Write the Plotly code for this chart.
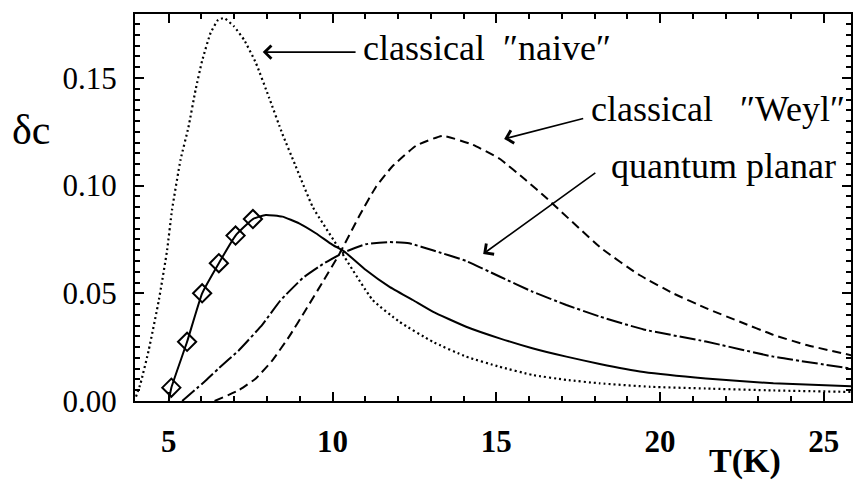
import plotly.graph_objects as go

# Temperature (K) and specific-heat excess delta-c for each curve
t_naive = [4.0, 4.14, 4.39, 4.7, 4.95, 5.1, 5.36, 5.6, 5.82, 6.02, 6.28, 6.51, 6.69,
           6.99, 7.3, 7.66, 8.06, 8.47, 8.85, 9.4, 10.26, 11.22, 12.04, 13.06, 14.08,
           15.1, 16.1, 17.14, 18.16, 19.7, 21.4, 23.46, 25.85]
dc_naive = [0.002, 0.0082, 0.0237, 0.047, 0.070, 0.0887, 0.112, 0.127, 0.1445, 0.158,
            0.171, 0.177, 0.1778, 0.174, 0.1677, 0.157, 0.141, 0.124, 0.110, 0.090,
            0.0694, 0.047, 0.0368, 0.0275, 0.0206, 0.0159, 0.0121, 0.0098, 0.0082,
            0.0066, 0.0058, 0.0049, 0.0042]

t_weyl = [6.4, 7.15, 7.66, 8.17, 8.68, 9.19, 9.69, 10.2, 10.82, 11.33, 11.83, 12.55,
          13.36, 14.28, 15.1, 15.9, 16.55, 18.2, 19.37, 20.4, 21.42, 22.44, 23.46,
          24.47, 25.85]
dc_weyl = [0.0, 0.0051, 0.0105, 0.019, 0.030, 0.0425, 0.055, 0.068, 0.086, 0.0995,
           0.109, 0.1185, 0.1231, 0.119, 0.1125, 0.1026, 0.094, 0.071, 0.0585,
           0.050, 0.043, 0.0368, 0.0307, 0.026, 0.0212]

t_planar = [5.41, 6.13, 6.53, 7.15, 7.86, 8.4, 9.1, 9.75, 10.35, 11.02, 11.73, 12.34,
            13.06, 14.08, 15.1, 16.1, 17.14, 18.16, 19.5, 21.4, 23.46, 25.85]
dc_planar = [0.0, 0.0095, 0.0152, 0.0237, 0.0355, 0.0465, 0.0572, 0.064, 0.069, 0.0728,
             0.0738, 0.0732, 0.070, 0.065, 0.0578, 0.0508, 0.0446, 0.0392, 0.0332,
             0.0276, 0.0206, 0.0150]

t_fit = [5.0, 5.08, 5.56, 6.02, 6.53, 7.04, 7.57, 7.96, 8.47, 8.98, 9.49, 10.0, 10.36,
         11.02, 11.73, 12.45, 13.06, 14.08, 15.1, 16.1, 17.14, 18.16, 19.5, 21.4,
         23.46, 25.85]
dc_fit = [0.0, 0.0062, 0.0275, 0.050, 0.064, 0.0768, 0.0845, 0.0864, 0.0856, 0.0825,
          0.0779, 0.0725, 0.0694, 0.0608, 0.0531, 0.0469, 0.0415, 0.0345, 0.0291,
          0.0245, 0.0206, 0.0172, 0.0135, 0.0105, 0.0082, 0.0068]

# measured points
t_meas = [5.08, 5.56, 6.02, 6.53, 7.04, 7.57]
dc_meas = [0.0062, 0.0275, 0.050, 0.064, 0.0768, 0.0845]

x_ticks = [5, 10, 15, 20, 25]
y_ticks = [0.0, 0.05, 0.10, 0.15]

SERIF = "Liberation Serif, Times New Roman, serif"

fig = go.Figure()


def curve(x, y, dash, width=2.0):
    fig.add_trace(go.Scatter(
        x=x, y=y, mode="lines", showlegend=False, hoverinfo="skip",
        line=dict(color="black", width=width, dash=dash, shape="spline", smoothing=0.4),
    ))


curve(t_naive, dc_naive, "2px,3px", 2.2)
curve(t_weyl, dc_weyl, "9px,5px")
curve(t_planar, dc_planar, "16px,3px,3px,3px")
curve(t_fit, dc_fit, "solid")

fig.add_trace(go.Scatter(
    x=t_meas, y=dc_meas, mode="markers", showlegend=False, hoverinfo="skip",
    marker=dict(symbol="diamond-open", size=14, color="black", line=dict(width=2, color="black")),
))

label_font = dict(family=SERIF, size=36, color="black")

# curve labels and their arrows
labels = [
    ("classical\u00a0 ″naive″", 10.88, 0.164, 7.87, 0.162, 10.75, 0.162),
    ("classical\u00a0\u00a0 ″Weyl″", 17.82, 0.1356, 15.24, 0.1217, 17.70, 0.1314),
    ("quantum planar", 18.43, 0.1092, 14.6, 0.0683, 18.07, 0.1064),
]
for text, tx, ty, hx, hy, ax_, ay_ in labels:
    fig.add_annotation(x=tx, y=ty, xref="x", yref="y", text=text, showarrow=False,
                       xanchor="left", yanchor="middle", font=label_font)
    fig.add_annotation(x=hx, y=hy, xref="x", yref="y", ax=ax_, ay=ay_,
                       axref="x", ayref="y", text="", showarrow=True,
                       arrowhead=4, arrowsize=1.6, arrowwidth=1.6, arrowcolor="black",
                       standoff=0, startstandoff=0)

fig.add_annotation(x=-0.145, y=0.70, xref="paper", yref="paper", text="δc",
                   showarrow=False, xanchor="center", yanchor="middle",
                   font=dict(family=SERIF, size=42, color="black"))
fig.add_annotation(x=0.852, y=-0.155, xref="paper", yref="paper", text="<b>T(K)</b>",
                   showarrow=False, xanchor="center", yanchor="middle",
                   font=dict(family=SERIF, size=34, color="black"))

fig.update_xaxes(
    range=[3.97, 25.83], tickvals=x_ticks, ticktext=[f"<b>{v}</b>" for v in x_ticks],
    ticks="inside", ticklen=9, tickwidth=2, tickcolor="black",
    showline=True, linecolor="black", linewidth=2, mirror="allticks",
    showgrid=False, zeroline=False, ticklabelstandoff=12,
    tickfont=dict(family=SERIF, size=31, color="black"),
    minor=dict(dtick=1, tick0=0, ticks="inside", ticklen=5, tickwidth=1.5,
               tickcolor="black", showgrid=False),
)
fig.update_yaxes(
    range=[0, 0.1797], tickvals=y_ticks, tickformat=".2f",
    ticks="inside", ticklen=9, tickwidth=2, tickcolor="black",
    showline=True, linecolor="black", linewidth=2, mirror="allticks",
    showgrid=False, zeroline=False, ticklabelstandoff=10,
    tickfont=dict(family=SERIF, size=31, color="black"),
    minor=dict(dtick=0.005, tick0=0, ticks="inside", ticklen=5, tickwidth=1.5,
               tickcolor="black", showgrid=False),
)

fig.update_layout(
    width=854, height=481,
    margin=dict(l=135, r=1, t=14, b=80, pad=0),
    paper_bgcolor="white", plot_bgcolor="white",
    showlegend=False,
)

fig.write_html("out.html")
